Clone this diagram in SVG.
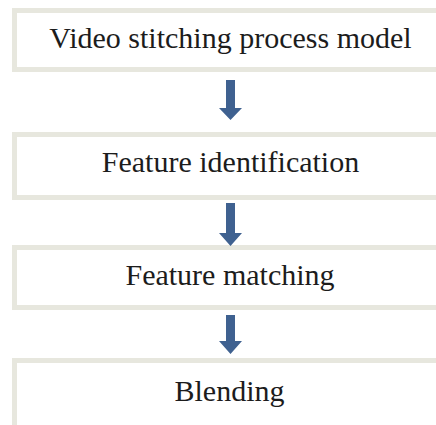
<svg xmlns="http://www.w3.org/2000/svg" width="436" height="425" viewBox="0 0 436 425">
<style>
.box{fill:#ffffff;stroke:#e7e7de;stroke-width:5}
.lbl{font-family:"Liberation Serif","Times New Roman",serif;font-size:30px;fill:#1c1c1c;text-anchor:middle}
.arr{fill:#3f6190}
</style>
<rect x="0" y="0" width="436" height="425" fill="#ffffff"/>
<g id="node1"><rect class="box" x="14.5" y="10.5" width="430" height="59"/><text class="lbl" x="230.5" y="47.5">Video stitching process model</text></g>
<g id="node2"><rect class="box" x="14.5" y="134.5" width="430" height="63"/><text class="lbl" x="230.5" y="172">Feature identification</text></g>
<g id="node3"><rect class="box" x="14.5" y="247.5" width="430" height="60"/><text class="lbl" x="230" y="285">Feature matching</text></g>
<g id="node4"><rect class="box" x="14.5" y="360.5" width="430" height="70"/><text class="lbl" x="229.5" y="401">Blending</text></g>
<g id="connectors">
<path class="arr" d="M226 80 H235 V108 H242 L230.5 120 L219 108 H226 Z"/>
<path class="arr" d="M226 203 H235 V233 H242 L230.5 246 L219 233 H226 Z"/>
<path class="arr" d="M226 315 H235 V341 H242 L230.5 354 L219 341 H226 Z"/>
</g>
</svg>
